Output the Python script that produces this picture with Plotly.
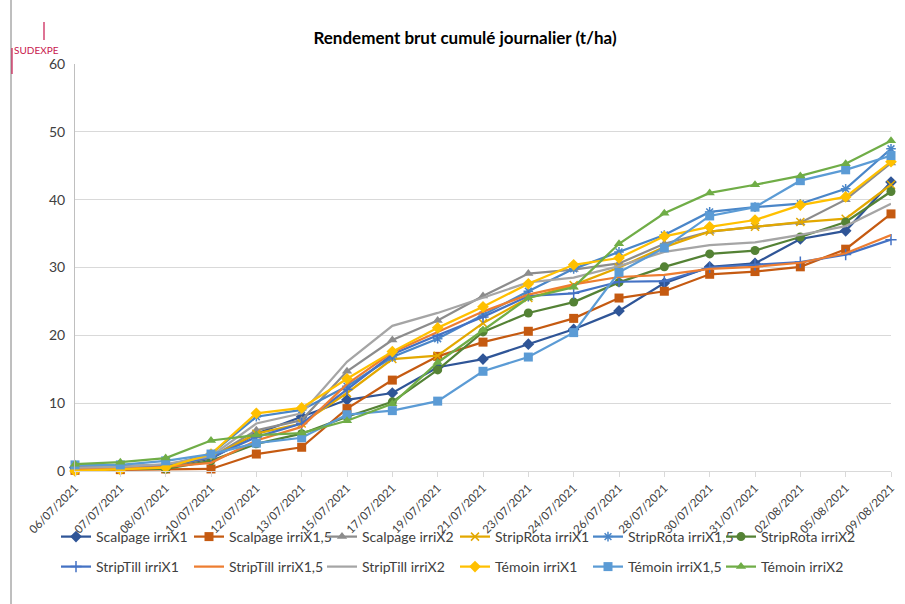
import plotly.graph_objects as go

dates = ["06/07/2021", "07/07/2021", "08/07/2021", "10/07/2021", "12/07/2021",
         "13/07/2021", "15/07/2021", "17/07/2021", "19/07/2021", "21/07/2021",
         "23/07/2021", "24/07/2021", "26/07/2021", "28/07/2021", "30/07/2021",
         "31/07/2021", "02/08/2021", "05/08/2021", "09/08/2021"]

scalpage_x1 = [0.5, 0.5, 0.6, 1.8, 5.5, 8.0, 10.5, 11.5, 15.3, 16.5, 18.7, 20.9, 23.6, 27.7, 30.1, 30.6, 34.2, 35.4, 42.6]
scalpage_x15 = [0.1, 0.2, 0.3, 0.3, 2.5, 3.5, 9.2, 13.4, 16.9, 19.0, 20.6, 22.5, 25.5, 26.5, 29.0, 29.4, 30.1, 32.7, 37.9]
scalpage_x2 = [0.6, 0.7, 0.9, 2.0, 6.0, 7.5, 14.7, 19.3, 22.2, 25.8, 29.1, 29.7, 30.6, 33.5, 35.3, 36.0, 36.6, 40.0, 45.4]
striprota_x1 = [0.3, 0.4, 0.6, 2.0, 5.5, 7.0, 11.5, 16.5, 17.0, 21.8, 25.5, 27.4, 30.0, 33.0, 35.3, 36.0, 36.7, 37.2, 42.2]
striprota_x15 = [0.5, 0.5, 0.8, 2.5, 8.0, 9.0, 12.5, 16.8, 19.5, 23.0, 26.5, 29.8, 32.3, 34.8, 38.2, 38.9, 39.4, 41.6, 47.5]
striprota_x2 = [0.4, 0.4, 0.3, 1.5, 4.0, 5.5, 8.0, 10.2, 14.9, 20.5, 23.3, 24.9, 27.8, 30.1, 32.0, 32.5, 34.5, 36.7, 41.2]
striptill_x1 = [0.5, 0.5, 0.7, 2.0, 5.0, 7.0, 12.0, 17.2, 20.0, 22.7, 25.8, 26.2, 27.9, 28.0, 30.0, 30.4, 30.8, 31.9, 34.1]
striptill_x15 = [0.3, 0.3, 0.6, 1.2, 4.5, 6.5, 12.8, 17.5, 20.5, 23.5, 26.0, 27.5, 28.6, 28.9, 29.8, 30.1, 30.7, 32.1, 34.8]
striptill_x2 = [0.5, 0.6, 1.0, 2.2, 7.0, 8.5, 16.1, 21.4, 23.3, 25.5, 27.8, 28.5, 30.2, 32.3, 33.3, 33.7, 34.8, 36.1, 39.4]
temoin_x1 = [0.0, 0.2, 0.5, 2.5, 8.5, 9.3, 13.6, 17.6, 21.1, 24.2, 27.6, 30.4, 31.4, 34.6, 36.0, 37.0, 39.2, 40.4, 45.6]
temoin_x15 = [0.9, 0.9, 1.5, 2.5, 4.1, 4.9, 8.3, 8.9, 10.3, 14.7, 16.8, 20.4, 29.3, 32.9, 37.6, 38.9, 42.8, 44.4, 46.5]
temoin_x2 = [1.0, 1.3, 1.9, 4.5, 5.3, 5.6, 7.4, 9.9, 16.0, 20.8, 25.5, 27.1, 33.5, 38.0, 41.0, 42.2, 43.5, 45.3, 48.7]

# (name, values, colour, marker symbol or None)
series = [
    ("Scalpage irriX1", scalpage_x1, "#2F5597", "diamond"),
    ("Scalpage irriX1,5", scalpage_x15, "#C55A11", "square"),
    ("Scalpage irriX2", scalpage_x2, "#8C8C8C", "triangle-up"),
    ("StripRota irriX1", striprota_x1, "#E3A800", "x-thin"),
    ("StripRota irriX1,5", striprota_x15, "#4A86C8", "asterisk"),
    ("StripRota irriX2", striprota_x2, "#548235", "circle"),
    ("StripTill irriX1", striptill_x1, "#4472C4", "cross-thin"),
    ("StripTill irriX1,5", striptill_x15, "#ED7D31", None),
    ("StripTill irriX2", striptill_x2, "#A5A5A5", None),
    ("Témoin irriX1", temoin_x1, "#FFC000", "diamond"),
    ("Témoin irriX1,5", temoin_x15, "#5B9BD5", "square"),
    ("Témoin irriX2", temoin_x2, "#70AD47", "triangle-up"),
]

FONT = "Lato, 'Liberation Sans', sans-serif"

# legend grid: 6 columns x 2 rows below the axis (pixel anchors)
COL_X = [56, 189, 322, 455, 588, 721]
ROW_Y = [537, 567]

fig = go.Figure()
legends = {}
for i, (name, vals, color, symbol) in enumerate(series):
    if symbol is None:
        mode = "lines"
        marker = None
    else:
        mode = "lines+markers"
        thin = symbol in ("x-thin", "cross-thin", "asterisk")
        marker = dict(symbol=symbol, size=9 if not thin else 8, color=color,
                      line=dict(color=color, width=1.5 if thin else 0))
    leg = "legend" if i == 0 else f"legend{i + 1}"
    fig.add_trace(go.Scatter(
        x=dates, y=vals, name=name, mode=mode,
        line=dict(color=color, width=2.25),
        marker=marker, cliponaxis=False, legend=leg,
    ))
    legends[leg] = dict(
        orientation="h", xref="container", yref="container",
        x=COL_X[i % 6] / 905, xanchor="left",
        y=1 - ROW_Y[i // 6] / 604, yanchor="middle",
        font=dict(family=FONT, size=14, color="#404040"),
        bgcolor="rgba(0,0,0,0)",
    )

fig.update_layout(
    width=905, height=604,
    margin=dict(l=75, r=14, t=64, b=133),
    paper_bgcolor="white", plot_bgcolor="white",
    font=dict(family=FONT, size=12, color="#404040"),
    title=dict(text="<b>Rendement brut cumulé journalier (t/ha)</b>",
               x=465 / 905, xanchor="center", y=1 - 38 / 604, yanchor="middle",
               font=dict(family=FONT, size=17, color="#000000")),
    showlegend=True,
    **legends,
)

fig.update_xaxes(
    type="category", range=[0, len(dates) - 1], automargin=False,
    showgrid=False, showline=True, linecolor="#D9D9D9", linewidth=1,
    ticks="outside", ticklen=5, tickcolor="#D9D9D9",
    tickangle=-45, tickfont=dict(family=FONT, size=11.5, color="#404040"),
)
fig.update_yaxes(
    range=[0, 60], dtick=10, showgrid=True, gridcolor="#D9D9D9", gridwidth=1,
    showline=True, linecolor="#BFBFBF", zeroline=False, automargin=False,
    ticks="", ticklabelstandoff=6,
    tickfont=dict(family=FONT, size=14, color="#404040"),
)

# chart frame on the left edge
fig.add_shape(type="line", xref="paper", yref="paper",
              x0=-64 / 816, x1=-64 / 816, y0=-133 / 407, y1=471 / 407,
              line=dict(color="#7F7F7F", width=1))

# SUDEXPE logo
logo_red = "#C8174E"
fig.add_annotation(text="SUDEXPE", xref="paper", yref="paper",
                   x=-63 / 816, y=(471 - 50) / 407, xanchor="left", yanchor="middle",
                   showarrow=False,
                   font=dict(family=FONT, size=10, color=logo_red))
fig.add_shape(type="line", xref="paper", yref="paper",
              x0=-31 / 816, x1=-31 / 816, y0=(471 - 40) / 407, y1=(471 - 22) / 407,
              line=dict(color=logo_red, width=1.2))
fig.add_shape(type="line", xref="paper", yref="paper",
              x0=-63 / 816, x1=-63 / 816, y0=(471 - 74) / 407, y1=(471 - 48) / 407,
              line=dict(color=logo_red, width=1.2))

fig.write_html("out.html")
